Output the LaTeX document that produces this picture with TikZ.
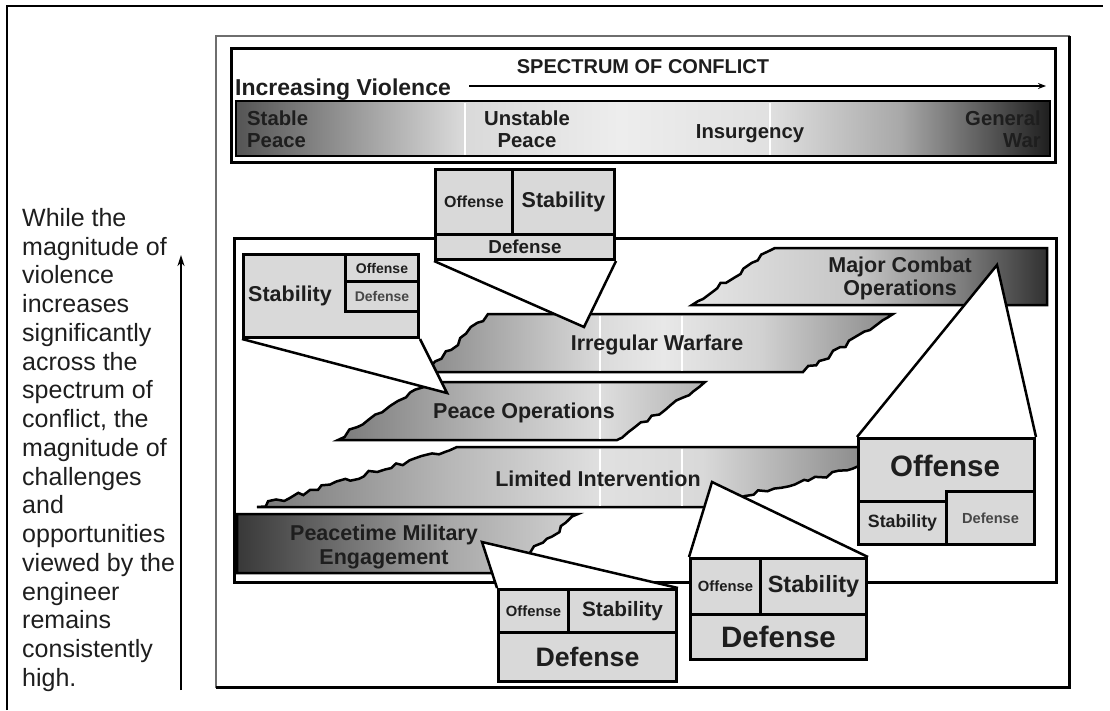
\documentclass[tikz,border=0pt]{standalone}
\usepackage{fontspec}
\setmainfont{Liberation Sans}
\usetikzlibrary{arrows.meta}

\definecolor{ink}{HTML}{1E1E1E}
\definecolor{cellgray}{HTML}{D9D9D9}
\definecolor{framegray}{HTML}{6E6E6E}

% horizontal grey ramps (the path box maps to 25bp..75bp)
\pgfdeclarehorizontalshading{spectrumbar}{100bp}{rgb(0bp)=(.33,.33,.33); rgb(25bp)=(.33,.33,.33); rgb(38.8bp)=(.85,.85,.85); rgb(48.6bp)=(.93,.93,.93); rgb(57.7bp)=(.88,.88,.88); rgb(65.8bp)=(.66,.66,.66); rgb(75bp)=(.12,.12,.12); rgb(100bp)=(.12,.12,.12)}
\pgfdeclarehorizontalshading{bandMCO}{100bp}{rgb(0bp)=(.90,.90,.90); rgb(25bp)=(.90,.90,.90); rgb(48.7bp)=(.77,.77,.77); rgb(62.7bp)=(.50,.50,.50); rgb(75bp)=(.19,.19,.19); rgb(100bp)=(.19,.19,.19)}
\pgfdeclarehorizontalshading{bandIW}{100bp}{rgb(0bp)=(.54,.54,.54); rgb(25bp)=(.54,.54,.54); rgb(44bp)=(.86,.86,.86); rgb(50.4bp)=(.91,.91,.91); rgb(60.9bp)=(.82,.82,.82); rgb(75bp)=(.54,.54,.54); rgb(100bp)=(.54,.54,.54)}
\pgfdeclarehorizontalshading{bandPO}{100bp}{rgb(0bp)=(.48,.48,.48); rgb(25bp)=(.48,.48,.48); rgb(47.1bp)=(.74,.74,.74); rgb(60.7bp)=(.87,.87,.87); rgb(75bp)=(.70,.70,.70); rgb(100bp)=(.70,.70,.70)}
\pgfdeclarehorizontalshading{bandLI}{100bp}{rgb(0bp)=(.47,.47,.47); rgb(25bp)=(.47,.47,.47); rgb(40.7bp)=(.72,.72,.72); rgb(53bp)=(.88,.88,.88); rgb(61.1bp)=(.85,.85,.85); rgb(73.9bp)=(.55,.55,.55); rgb(75bp)=(.53,.53,.53); rgb(100bp)=(.53,.53,.53)}
\pgfdeclarehorizontalshading{bandPME}{100bp}{rgb(0bp)=(.22,.22,.22); rgb(25bp)=(.22,.22,.22); rgb(34.2bp)=(.35,.35,.35); rgb(56.2bp)=(.66,.66,.66); rgb(75bp)=(.82,.82,.82); rgb(100bp)=(.82,.82,.82)}

\pgfdeclarelayer{back}
\pgfdeclarelayer{ptr}
\pgfsetlayers{back,ptr,main}

\begin{document}
\begin{tikzpicture}[x=1pt,y=-1pt,
  band/.style={draw=black, line width=2.5pt, line join=miter, shade},
  stripe/.style={white, line width=2.5pt},
  cell/.style={draw=black, line width=3pt, fill=cellgray, inner sep=0pt, anchor=north west, text=ink},
  pointer/.style={draw=black, line width=2.5pt, fill=white, line join=miter},
  lbl/.style={text=ink, align=center, inner sep=0pt, font=\bfseries\fontsize{21.5}{23}\selectfont},
  spec/.style={text=ink, inner sep=0pt, font=\bfseries\fontsize{20.3}{22}\selectfont},
  uparrow/.style={-{Stealth[length=11pt,width=7pt]}, line width=2.2pt},
  violence/.style={-{Stealth[length=8pt,width=6pt]}, line width=1.8pt}
]
\pgfmathsetseed{42}
\useasboundingbox (0,0) rectangle (1110,710);

\begin{pgfonlayer}{back}
\fill[white] (0,0) rectangle (1110,710);

% page frame
\draw[line width=2.5pt] (7,710) -- (7,6) -- (1103,6);

% figure frame
\draw[framegray, line width=1.2pt] (216,36) rectangle (1069,687);
\draw[line width=3pt] (1069,36) -- (1069,687) -- (216,687);

% side note and its arrow
\node[anchor=north west, inner sep=0pt, align=left, text=ink,
      font=\fontsize{25}{28.76}\selectfont] (note) at (22,208)
  {While the\\magnitude of\\violence\\increases\\significantly\\across the\\spectrum of\\conflict, the\\magnitude of\\challenges\\and\\opportunities\\viewed by the\\engineer\\remains\\consistently\\high.};
\coordinate (upFoot) at (181,690);
\coordinate (upHead) at (181,255);
\draw[uparrow] (upFoot) -- (upHead);

% spectrum banner
\draw[line width=3pt] (231,48) rectangle (1055,162);
\node[text=ink, inner sep=0pt, anchor=base, font=\bfseries\fontsize{20}{22}\selectfont] (title) at (643,73) {SPECTRUM OF CONFLICT};
\node[text=ink, inner sep=0pt, anchor=base west, font=\bfseries\fontsize{23}{25}\selectfont] (incv) at (235,95) {Increasing Violence};
\coordinate (vStart) at (469,86);
\coordinate (vEnd) at (1046,86);
\draw[violence] (vStart) -- (vEnd);

\path[shade, shading=spectrumbar, draw=black, line width=2.2pt] (236,101) rectangle (1050,156);
\draw[stripe] (465,102.5) -- (465,154.5);
\draw[stripe] (770,102.5) -- (770,154.5);
\node[spec, anchor=west, align=left] (stable) at (247,128.9) {Stable\\Peace};
\node[spec, align=center] (unstable) at (527,128.9) {Unstable\\Peace};
\node[spec, anchor=base] (insurg) at (750,138) {Insurgency};
\node[spec, anchor=east, align=right] (genwar) at (1041,128.9) {General\\War};

% operations panel
\draw[line width=3pt] (234,238) rectangle (1056,582);

% Major Combat Operations
\path[band, shading=bandMCO] (692,305)
  \foreach \i in {1,...,13} { -- ({692+83*\i/14+2.3*rand},{305-57*\i/14+2.3*rand}) }
  -- (775,248) -- (1047,248) -- (1047,305) -- cycle;
\node[lbl] (mco) at (900,278.6) {Major Combat\\Operations};

% Irregular Warfare
\path[band, shading=bandIW] (425,372)
  \foreach \i in {1,...,11} { -- ({425+63*\i/12+2.3*rand},{372-58*\i/12+2.3*rand}) }
  -- (488,314) -- (893,314)
  \foreach \i in {1,...,14} { -- ({893-90*\i/15+2.3*rand},{314+58*\i/15+2.3*rand}) }
  -- (803,372) -- cycle;
\draw[stripe] (600,315.5) -- (600,370.5);
\draw[stripe] (682,315.5) -- (682,370.5);
\node[lbl, anchor=base] (iw) at (657,350) {Irregular Warfare};

% Peace Operations
\path[band, shading=bandPO] (338,440)
  \foreach \i in {1,...,13} { -- ({338+92*\i/14+2.3*rand},{440-58*\i/14+2.3*rand}) }
  -- (430,382) -- (705,382)
  \foreach \i in {1,...,14} { -- ({705-88*\i/15+2.3*rand},{382+58*\i/15+2.3*rand}) }
  -- (617,440) -- cycle;
\draw[stripe] (600,383.5) -- (600,438.5);
\node[lbl, anchor=base] (po) at (524,418) {Peace Operations};

% Limited Intervention
\path[band, shading=bandLI] (257,507)
  \foreach \i in {1,...,29} { -- ({257+200*\i/30+2.3*rand},{507-60*\i/30+2.3*rand}) }
  -- (457,447) -- (875,447) -- (875,462)
  \foreach \i in {1,...,17} { -- ({875-130*\i/18+2.3*rand},{462+34*\i/18+2.3*rand}) }
  -- (745,496) -- (712,507) -- cycle;
\draw[stripe] (600,448.5) -- (600,505.5);
\draw[stripe] (682,448.5) -- (682,505.5);
\node[lbl, anchor=base] (li) at (598,486) {Limited Intervention};

% Peacetime Military Engagement
\path[band, shading=bandPME] (237,514) -- (578,514)
  \foreach \i in {1,...,13} { -- ({578-73*\i/14+2.3*rand},{514+59*\i/14+2.3*rand}) }
  -- (505,573) -- (237,573) -- cycle;
\node[lbl, align=center, font=\bfseries\fontsize{21.5}{24}\selectfont] (pme) at (384,547.1) {Peacetime Military\\Engagement};
\end{pgfonlayer}

% callout: Irregular Warfare mix
\node[cell, minimum width=77pt, minimum height=65pt, font=\bfseries\fontsize{16}{18}\selectfont] (tcOff) at (434,168) {Offense};
\node[cell, minimum width=102pt, minimum height=65pt, font=\bfseries\fontsize{21.5}{23}\selectfont] (tcSta) at (511,168) {Stability};
\node[cell, minimum width=179pt, minimum height=25pt, font=\bfseries\fontsize{18.8}{20}\selectfont] (tcDef) at (434,233) {Defense};
\coordinate (tcTip) at (584,327);

% callout: Peace Operations mix
\node[cell, minimum width=175pt, minimum height=83pt] (lcBox) at (242,253) {};
\node[text=ink, inner sep=0pt, font=\bfseries\fontsize{21.5}{23}\selectfont] (lcSta) at (290,296) {Stability};
\node[cell, minimum width=73pt, minimum height=27pt, font=\bfseries\fontsize{14}{16}\selectfont] (lcOff) at (344,253) {Offense};
\node[cell, minimum width=73pt, minimum height=30pt, text=black!72, font=\bfseries\fontsize{14}{16}\selectfont] (lcDef) at (344,280) {Defense};
\coordinate (lcTip) at (447,393);

% callout: Major Combat Operations mix
\node[cell, minimum width=176pt, minimum height=106pt] (rcBox) at (857,437) {};
\node[text=ink, inner sep=0pt, font=\bfseries\fontsize{29.5}{31}\selectfont] (rcOff) at (945,466) {Offense};
\node[cell, minimum width=88pt, minimum height=43pt, font=\bfseries\fontsize{17.8}{19}\selectfont] (rcSta) at (857,500) {Stability};
\node[cell, minimum width=88pt, minimum height=53pt, text=black!72, font=\bfseries\fontsize{14.6}{16}\selectfont] (rcDef) at (945,490) {Defense};
\coordinate (rcTip) at (997,265);

% callout: Limited Intervention mix
\node[cell, minimum width=70pt, minimum height=56pt, font=\bfseries\fontsize{14.8}{16}\selectfont] (bmOff) at (689,557) {Offense};
\node[cell, minimum width=106pt, minimum height=56pt, font=\bfseries\fontsize{23.5}{25}\selectfont] (bmSta) at (759,557) {Stability};
\node[cell, minimum width=176pt, minimum height=45pt, font=\bfseries\fontsize{29.5}{31}\selectfont] (bmDef) at (689,613) {Defense};
\coordinate (bmTip) at (712,482);

% callout: Peacetime Military Engagement mix
\node[cell, minimum width=70pt, minimum height=43pt, font=\bfseries\fontsize{14.8}{16}\selectfont] (blOff) at (497,588) {Offense};
\node[cell, minimum width=108pt, minimum height=43pt, font=\bfseries\fontsize{20.8}{22}\selectfont] (blSta) at (567,588) {Stability};
\node[cell, minimum width=178pt, minimum height=49pt, font=\bfseries\fontsize{26.7}{28}\selectfont] (blDef) at (497,631) {Defense};
\coordinate (blTip) at (482,542);

% pointers from each mix box to its band
\begin{pgfonlayer}{ptr}
\draw[pointer] (tcDef.south west) -- (tcTip) -- (tcDef.south east);
\draw[pointer] (lcBox.south west) -- (lcTip) -- (lcBox.south east);
\draw[pointer] (rcBox.north west) -- (rcTip) -- (rcBox.north east);
\draw[pointer] (bmOff.north west) -- (bmTip) -- (bmSta.north east);
\draw[pointer] (blOff.north west) -- (blTip) -- (blSta.north east);
\end{pgfonlayer}
\end{tikzpicture}
\end{document}
